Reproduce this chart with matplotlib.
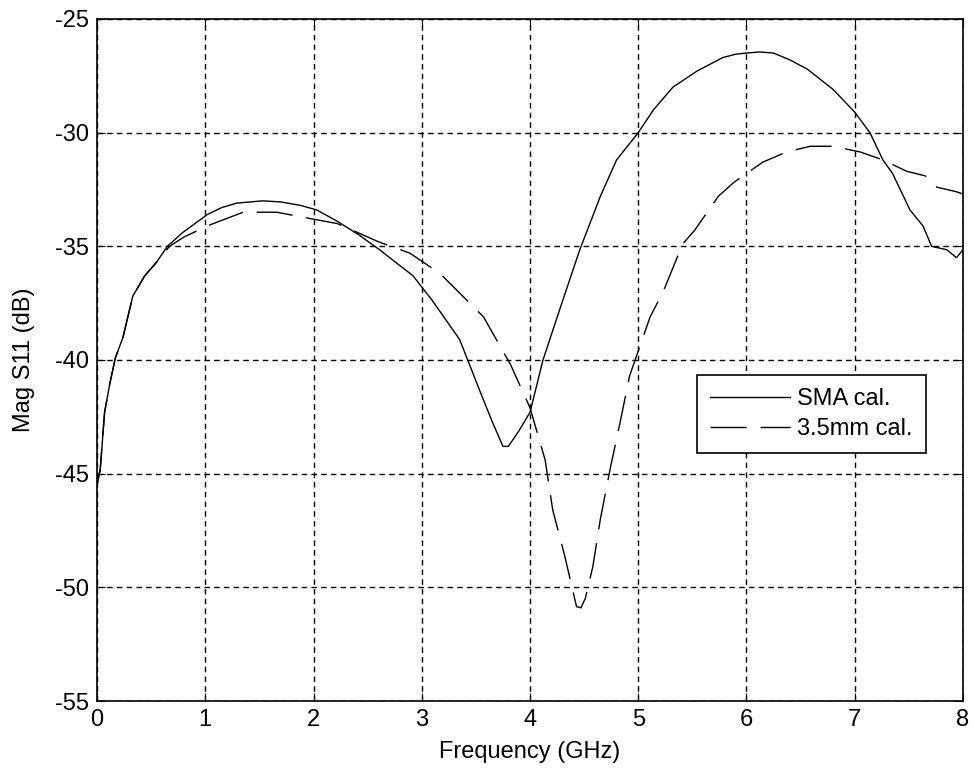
import matplotlib
matplotlib.use('Agg')
import matplotlib.pyplot as plt

plt.rcParams['font.family'] = ['Liberation Sans', 'DejaVu Sans']
plt.rcParams['axes.unicode_minus'] = False

# SMA calibration (solid)
sma_freq = [0, 0.03, 0.07, 0.12, 0.17, 0.24, 0.33, 0.44, 0.55, 0.65, 0.79, 1.02, 1.15, 1.29,
            1.53, 1.7, 1.88, 2.03, 2.22, 2.42, 2.61, 2.92, 3.10, 3.35, 3.54, 3.65, 3.75, 3.80,
            3.90, 4.0, 4.12, 4.28, 4.46, 4.65, 4.80, 5.0, 5.14, 5.32, 5.54, 5.78, 5.9, 6.0,
            6.12, 6.25, 6.4, 6.56, 6.8, 7.0, 7.14, 7.26, 7.35, 7.51, 7.63, 7.71, 7.85, 7.94, 8.0]
sma_db = [-45.5, -44.8, -42.3, -41.0, -39.9, -39.0, -37.2, -36.3, -35.7, -35.0, -34.4, -33.6,
          -33.3, -33.1, -33.0, -33.05, -33.2, -33.4, -33.9, -34.5, -35.15, -36.3, -37.4, -39.1,
          -41.4, -42.7, -43.8, -43.8, -43.1, -42.3, -40.0, -37.7, -35.15, -32.8, -31.2, -30.0,
          -29.0, -28.0, -27.3, -26.7, -26.55, -26.5, -26.45, -26.5, -26.8, -27.2, -28.1, -29.1,
          -30.0, -31.2, -31.8, -33.4, -34.1, -35.0, -35.15, -35.5, -35.15]

# 3.5mm calibration (dashed)
mm_freq = [0, 0.03, 0.07, 0.12, 0.17, 0.24, 0.33, 0.44, 0.55, 0.67, 0.8, 1.02, 1.35, 1.66,
           1.88, 2.22, 2.6, 2.89, 3.17, 3.57, 3.82, 4.0, 4.14, 4.21, 4.32, 4.43, 4.47, 4.51,
           4.58, 4.65, 4.74, 4.83, 4.92, 5.11, 5.23, 5.41, 5.52, 5.74, 5.88, 6.15, 6.37, 6.59,
           6.80, 7.05, 7.26, 7.48, 7.65, 7.76, 7.94, 8.0]
mm_db = [-45.5, -44.8, -42.3, -41.0, -39.9, -39.0, -37.2, -36.3, -35.7, -35.0, -34.6, -34.1,
         -33.5, -33.5, -33.7, -34.0, -34.8, -35.3, -36.2, -38.1, -40.2, -42.1, -44.4, -46.6,
         -48.6, -50.85, -50.9, -50.5, -49.1, -47.0, -44.8, -42.8, -40.7, -38.1, -37.0, -34.9,
         -34.3, -32.8, -32.2, -31.3, -30.85, -30.6, -30.6, -30.85, -31.2, -31.7, -31.9, -32.4,
         -32.6, -32.7]

x_ticks = [0, 1, 2, 3, 4, 5, 6, 7, 8]
y_ticks = [-55, -50, -45, -40, -35, -30, -25]

fig = plt.figure(figsize=(9.74, 7.74), dpi=100)
ax = fig.add_axes([0.0996, 0.0943, 0.8891, 0.8812])

ax.plot(sma_freq, sma_db, color='black', lw=1.0, label='SMA cal.')
ax.plot(mm_freq, mm_db, color='black', lw=1.0, linestyle=(0, (26, 10)), label='3.5mm cal.')

ax.set_xlim(0, 8)
ax.set_ylim(-55, -25)
ax.set_xticks(x_ticks)
ax.set_yticks(y_ticks)
ax.grid(True, color='black', linestyle=(0, (4, 3)), lw=1.0)
ax.tick_params(direction='in', length=6, top=True, right=True, labelsize=17, pad=6)
for s in ax.spines.values():
    s.set_linewidth(1.2)

ax.set_xlabel('Frequency (GHz)', fontsize=17, labelpad=7)
ax.set_ylabel('Mag S11 (dB)', fontsize=17, labelpad=14)

leg = ax.legend(loc='upper left', bbox_to_anchor=(0.693, 0.478), fontsize=17,
                fancybox=False, framealpha=1, edgecolor='black', handlelength=3.4,
                borderpad=0.55, labelspacing=0.35, handletextpad=0.3, borderaxespad=0)
leg.get_frame().set_linewidth(1.2)

fig.savefig('out.png', dpi=100)
